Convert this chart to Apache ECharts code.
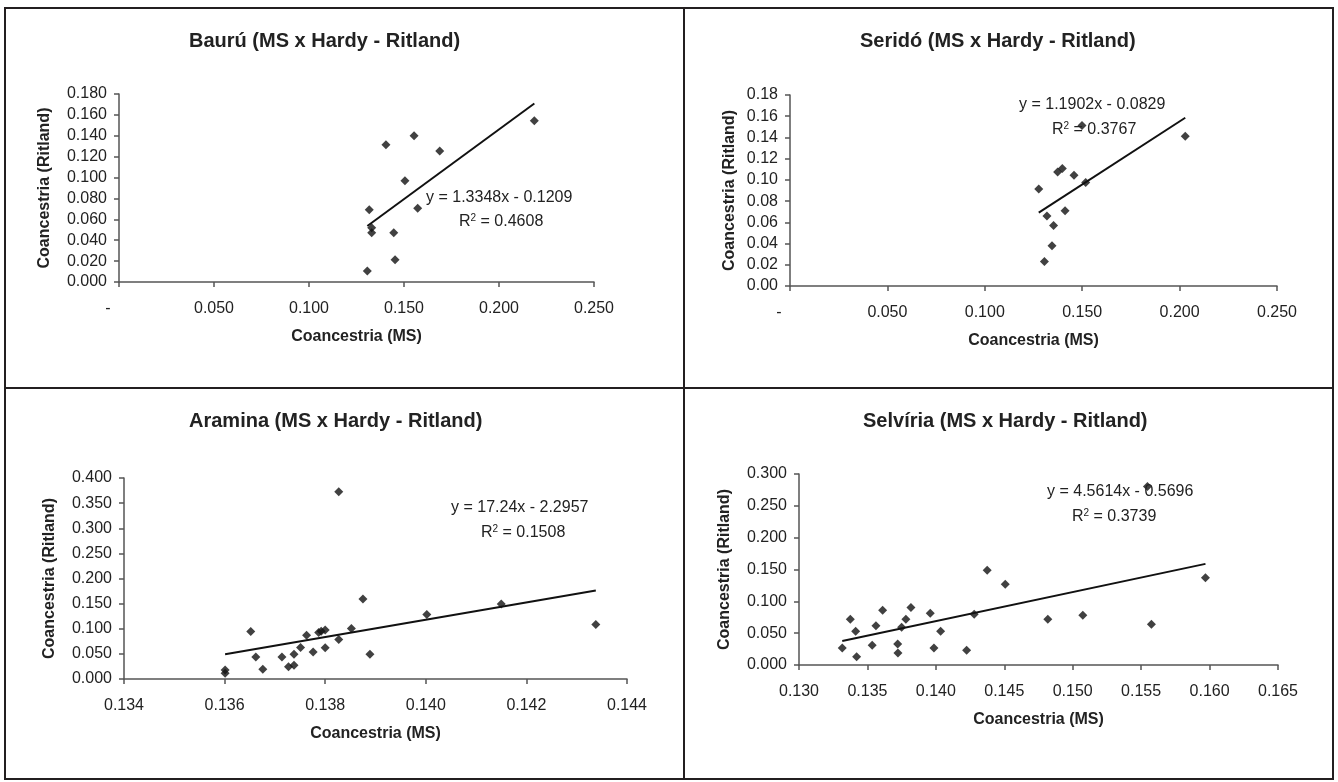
<!DOCTYPE html>
<html>
<head>
<meta charset="utf-8">
<script src="https://cdn.jsdelivr.net/npm/echarts@6/dist/echarts.min.js"></script>
<style>
  html, body { margin: 0; padding: 0; background: #fff; }
  #chart { width: 1338px; height: 782px; }
</style>
</head>
<body>
<div id="chart"></div>
<script>
// titles / axis names
const titles = [
  "Baurú (MS x Hardy - Ritland)",
  "Seridó (MS x Hardy - Ritland)",
  "Aramina (MS x Hardy - Ritland)",
  "Selvíria (MS x Hardy - Ritland)"
];
const xName = "Coancestria (MS)";
const yName = "Coancestria (Ritland)";

// Baurú
const bauruX = [0.2186, 0.1553, 0.1405, 0.1688, 0.1505, 0.1317, 0.1572, 0.1330, 0.1330, 0.1446, 0.1453, 0.1307];
const bauruY = [0.1544, 0.1400, 0.1315, 0.1254, 0.0970, 0.0692, 0.0706, 0.0520, 0.0472, 0.0472, 0.0214, 0.0105];
const bauruFit = [1.3348, -0.1209, "0.4608"];

// Seridó
const seridoX = [0.1499, 0.2029, 0.1374, 0.1398, 0.1458, 0.1518, 0.1277, 0.1412, 0.1319, 0.1353, 0.1345, 0.1306];
const seridoY = [0.1512, 0.1411, 0.1075, 0.1107, 0.1044, 0.0975, 0.0913, 0.0709, 0.0659, 0.0571, 0.0379, 0.0232];
const seridoFit = [1.1902, -0.0829, "0.3767"];

// Aramina
const araminaX = [0.13827, 0.13875, 0.13652, 0.13662, 0.13676, 0.13601, 0.13601, 0.13714, 0.13727, 0.13738, 0.13738, 0.13751,
  0.13763, 0.13776, 0.13787, 0.13792, 0.13800, 0.13800, 0.13827, 0.13852, 0.13889, 0.14002, 0.14150, 0.14338];
const araminaY = [0.3727, 0.1594, 0.0943, 0.0438, 0.0193, 0.0179, 0.0113, 0.0438, 0.0246, 0.0272, 0.0492, 0.0625,
  0.0870, 0.0538, 0.0923, 0.0950, 0.0977, 0.0624, 0.0784, 0.1003, 0.0492, 0.1282, 0.1495, 0.1083];
const araminaFit = [17.24, -2.2957, "0.1508"];

// Selvíria
const selviriaX = [0.13316, 0.13375, 0.13414, 0.13421, 0.13535, 0.13562, 0.13611, 0.13721, 0.13723, 0.13750, 0.13781, 0.13818,
  0.13959, 0.13986, 0.14035, 0.14225, 0.14280, 0.14375, 0.14507, 0.14818, 0.15074, 0.15575, 0.15970, 0.15546];
const selviriaY = [0.0267, 0.0719, 0.0530, 0.0131, 0.0310, 0.0618, 0.0860, 0.0330, 0.0189, 0.0593, 0.0719, 0.0902,
  0.0813, 0.0267, 0.0530, 0.0231, 0.0798, 0.1489, 0.1269, 0.0719, 0.0781, 0.0640, 0.1369, 0.2805];
const selviriaFit = [4.5614, -0.5696, "0.3739"];

// axis ranges: [min, max, interval, decimals]
const xRanges = [[0, 0.25, 0.05, 3], [0, 0.25, 0.05, 3], [0.134, 0.144, 0.002, 3], [0.13, 0.165, 0.005, 3]];
const yRanges = [[0, 0.18, 0.02, 3], [0, 0.18, 0.02, 2], [0, 0.4, 0.05, 3], [0, 0.3, 0.05, 3]];

const xs = [bauruX, seridoX, araminaX, selviriaX];
const ys = [bauruY, seridoY, araminaY, selviriaY];
const fits = [bauruFit, seridoFit, araminaFit, selviriaFit];

// layout (pixels)
const grids = [
  { left: 119, top: 94, width: 475, height: 188 },
  { left: 790, top: 95, width: 487, height: 191 },
  { left: 124, top: 478, width: 503, height: 201 },
  { left: 799, top: 474, width: 479, height: 191 }
];
const titlePos = [[189, 41], [860, 41], [189, 421], [863, 421]];
const eqPos = [[426, 198, 459, 222], [1019, 105, 1052, 130], [451, 508, 481, 533], [1047, 492, 1072, 517]];
const yNameGap = [66, 52, 66, 66];

const font = "'Liberation Sans', Arial, sans-serif";
const ink = "#222";
const axisColor = "#555";

const chart = echarts.init(document.getElementById("chart"));

const xAxis = [], yAxis = [], series = [], graphic = [];

xRanges.forEach((r, i) => {
  xAxis.push({
    type: "value", gridIndex: i, min: r[0], max: r[1], interval: r[2],
    name: xName, nameLocation: "middle", nameGap: 47,
    nameTextStyle: { fontSize: 16, fontWeight: "bold", color: ink, fontFamily: font },
    axisLine: { show: true, onZero: false, lineStyle: { color: axisColor, width: 1.5 } },
    axisTick: { show: true, length: 5, lineStyle: { color: axisColor, width: 1.5 } },
    splitLine: { show: false },
    axisLabel: {
      fontSize: 16, color: ink, fontFamily: font, margin: 19, showMaxLabel: true, showMinLabel: true,
      formatter: v => Math.abs(v) < 1e-9 ? "{d|-}" : v.toFixed(r[3]),
      rich: { d: { fontSize: 16, color: ink, fontFamily: font, padding: [0, 22, 0, 0] } }
    }
  });
});

yRanges.forEach((r, i) => {
  yAxis.push({
    type: "value", gridIndex: i, min: r[0], max: r[1], interval: r[2],
    name: yName, nameLocation: "middle", nameGap: yNameGap[i], nameRotate: 90,
    nameTextStyle: { fontSize: 16, fontWeight: "bold", color: ink, fontFamily: font },
    axisLine: { show: true, onZero: false, lineStyle: { color: axisColor, width: 1.5 } },
    axisTick: { show: true, length: 5, lineStyle: { color: axisColor, width: 1.5 } },
    splitLine: { show: false },
    axisLabel: { fontSize: 16, color: ink, fontFamily: font, margin: 12, formatter: v => v.toFixed(r[3]) }
  });
});

xs.forEach((xv, i) => {
  const pts = xv.map((x, k) => [x, ys[i][k]]);
  const lo = Math.min(...xv), hi = Math.max(...xv);
  const a = fits[i][0], b = fits[i][1];
  series.push({
    type: "line", xAxisIndex: i, yAxisIndex: i, silent: true, symbol: "none", z: 2,
    lineStyle: { color: "#111", width: 2 },
    data: [[lo, a * lo + b], [hi, a * hi + b]]
  });
  series.push({
    type: "scatter", xAxisIndex: i, yAxisIndex: i, symbol: "diamond", symbolSize: 9, z: 3,
    itemStyle: { color: "#111" },
    data: pts
  });
});

// frame
const frameStyle = { stroke: "#231f20", lineWidth: 2, fill: null };
graphic.push({ type: "rect", shape: { x: 5, y: 8, width: 1328, height: 771 }, style: frameStyle, silent: true });
graphic.push({ type: "line", shape: { x1: 684, y1: 8, x2: 684, y2: 779 }, style: frameStyle, silent: true });
graphic.push({ type: "line", shape: { x1: 5, y1: 388, x2: 1333, y2: 388 }, style: frameStyle, silent: true });

titles.forEach((t, i) => {
  graphic.push({
    type: "text", x: titlePos[i][0], y: titlePos[i][1], silent: true,
    style: { text: t, fontSize: 20, fontWeight: "bold", fontFamily: font, fill: ink, align: "left", verticalAlign: "middle" }
  });
});

fits.forEach((f, i) => {
  const a = f[0], b = f[1];
  const eq = "y = " + a + "x - " + Math.abs(b);
  const p = eqPos[i];
  graphic.push({
    type: "text", x: p[0], y: p[1], silent: true, z: 10,
    style: { text: eq, fontSize: 16, fontFamily: font, fill: ink, align: "left", verticalAlign: "middle" }
  });
  graphic.push({
    type: "text", x: p[2], y: p[3], silent: true, z: 10,
    style: {
      text: "R{sup|2} = " + f[2], fontSize: 16, fontFamily: font, fill: ink, align: "left", verticalAlign: "middle",
      rich: { sup: { fontSize: 10, fontFamily: font, fill: ink, verticalAlign: "top", lineHeight: 18 } }
    }
  });
});

chart.setOption({
  animation: false,
  backgroundColor: "#fff",
  textStyle: { fontFamily: font },
  grid: grids.map(g => Object.assign({ containLabel: false, outerBoundsMode: "none" }, g)),
  xAxis: xAxis,
  yAxis: yAxis,
  series: series,
  graphic: graphic
});
</script>
</body>
</html>
